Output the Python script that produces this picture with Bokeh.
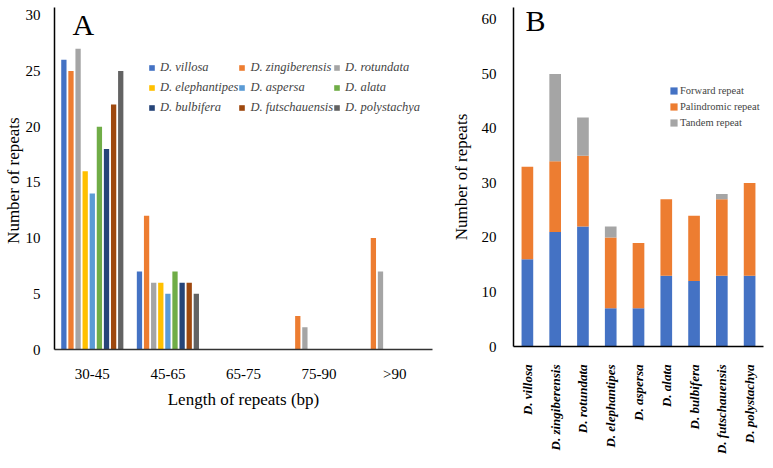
import math
from bokeh.plotting import figure
from bokeh.models import (FactorRange, Range1d, Legend, LegendItem, Label,
                          ColumnDataSource)
from bokeh.transform import dodge
from bokeh.layouts import row
from bokeh.embed import file_html
from bokeh.resources import INLINE

# ---------------- Panel A data ----------------
length_classes = ["30-45", "45-65", "65-75", "75-90", ">90"]
species_names = ["D. villosa", "D. zingiberensis", "D. rotundata",
                 "D. elephantipes", "D. aspersa", "D. alata",
                 "D. bulbifera", "D. futschauensis", "D. polystachya"]
villosa_len = [26, 7, 0, 0, 0]
zingiberensis_len = [25, 12, 0, 3, 10]
rotundata_len = [27, 6, 0, 2, 7]
elephantipes_len = [16, 6, 0, 0, 0]
aspersa_len = [14, 5, 0, 0, 0]
alata_len = [20, 7, 0, 0, 0]
bulbifera_len = [18, 6, 0, 0, 0]
futschauensis_len = [22, 6, 0, 0, 0]
polystachya_len = [25, 5, 0, 0, 0]
species_colors = ["#4472C4", "#ED7D31", "#A5A5A5", "#FFC000", "#5B9BD5",
                  "#70AD47", "#264478", "#9E480E", "#636363"]

# ---------------- Panel B data ----------------
forward_repeat = [16, 21, 22, 7, 7, 13, 12, 13, 13]
palindromic_repeat = [17, 13, 13, 13, 12, 14, 12, 14, 17]
tandem_repeat = [0, 16, 7, 2, 0, 0, 0, 1, 0]
type_names = ["Forward repeat", "Palindromic repeat", "Tandem repeat"]
type_colors = ["#4472C4", "#ED7D31", "#A5A5A5"]

SERIF = "Liberation Serif"


def style_plain(p):
    p.outline_line_color = None
    p.xgrid.grid_line_color = None
    p.ygrid.grid_line_color = None
    p.background_fill_color = None
    p.border_fill_color = None


def style_yaxis(p, standoff, label, label_standoff):
    ax = p.yaxis[0]
    ax.major_tick_line_color = None
    ax.minor_tick_line_color = None
    ax.axis_line_color = "black"
    ax.axis_line_width = 1.5
    ax.major_label_standoff = standoff
    ax.major_label_text_font = SERIF
    ax.major_label_text_font_size = "15px"
    ax.major_label_text_color = "black"
    ax.axis_label = label
    ax.axis_label_text_font = SERIF
    ax.axis_label_text_font_style = "normal"
    ax.axis_label_text_font_size = "17px"
    ax.axis_label_text_color = "black"
    ax.axis_label_standoff = label_standoff


# ================= Panel A =================
pA = figure(x_range=FactorRange(factors=length_classes, range_padding=0),
            y_range=Range1d(0, 30.7), frame_width=378, frame_height=342,
            output_backend="svg", toolbar_location=None,
            min_border_left=44, min_border_right=16,
            min_border_top=4, min_border_bottom=96)
style_plain(pA)

series_len = [villosa_len, zingiberensis_len, rotundata_len, elephantipes_len,
              aspersa_len, alata_len, bulbifera_len, futschauensis_len,
              polystachya_len]
items = []
n = len(species_names)
for i, (name, vals, col) in enumerate(zip(species_names, series_len, species_colors)):
    src = ColumnDataSource(dict(cat=length_classes, v=vals))
    r = pA.vbar(x=dodge("cat", (i - (n - 1) / 2) * 0.094, range=pA.x_range),
                top="v", width=0.07, source=src, fill_color=col,
                line_color=None)
    items.append(LegendItem(label=name, renderers=[r]))

# legend fills column by column: reorder so it reads row by row
order = [0, 3, 6, 1, 4, 7, 2, 5, 8]
legA = Legend(items=[items[k] for k in order], ncols=3, location=(94, 232),
              label_text_font=SERIF, label_text_font_style="italic",
              label_text_font_size="12.5px", glyph_width=7, glyph_height=7,
              label_standoff=5, label_height=20, spacing=0,
              padding=0, margin=0, border_line_color=None,
              background_fill_alpha=0, click_policy="none")
pA.add_layout(legA, "center")

style_yaxis(pA, 8, "Number of  repeats", 0)
pA.yaxis.ticker = [0, 5, 10, 15, 20, 25, 30]

pA.xaxis.major_tick_line_color = None
pA.xaxis.minor_tick_line_color = None
pA.xaxis.axis_line_color = "#333333"
pA.xaxis.axis_line_width = 1.5
pA.xaxis.major_label_standoff = 10
pA.xaxis.major_label_text_font = SERIF
pA.xaxis.major_label_text_font_size = "15px"
pA.xaxis.major_label_text_color = "black"
pA.xaxis.axis_label = "Length of repeats (bp)"
pA.xaxis.axis_label_text_font = SERIF
pA.xaxis.axis_label_text_font_style = "normal"
pA.xaxis.axis_label_text_font_size = "17px"
pA.xaxis.axis_label_text_color = "black"
pA.xaxis.axis_label_standoff = 5

pA.add_layout(Label(x=18, y=325, x_units="screen", y_units="screen",
                    text="A", text_font=SERIF, text_font_size="30px",
                    text_baseline="alphabetic", text_color="black"))

# ================= Panel B =================
srcB = ColumnDataSource(dict(sp=species_names, fwd=forward_repeat,
                             pal=palindromic_repeat, tan=tandem_repeat))
pB = figure(x_range=FactorRange(factors=species_names, range_padding=0),
            y_range=Range1d(0, 62.2), frame_width=250, frame_height=339,
            output_backend="svg", toolbar_location=None,
            min_border_left=57, min_border_right=1,
            min_border_top=7, min_border_bottom=96)
style_plain(pB)

rs = pB.vbar_stack(["fwd", "pal", "tan"], x="sp", width=0.42,
                   color=type_colors, line_color=None, source=srcB)
legB = Legend(items=[LegendItem(label=t, renderers=[r]) for t, r in zip(type_names, rs)],
              location=(156, 216), label_text_font=SERIF,
              label_text_font_size="10.5px", glyph_width=9, glyph_height=9,
              label_standoff=2, label_height=16, spacing=0, padding=0,
              margin=0, border_line_color=None, background_fill_alpha=0)
pB.add_layout(legB, "center")

style_yaxis(pB, 11, "Number of repeats", 8)
pB.yaxis.ticker = [0, 10, 20, 30, 40, 50, 60]

pB.xaxis.major_tick_line_color = None
pB.xaxis.minor_tick_line_color = None
pB.xaxis.axis_line_color = "black"
pB.xaxis.axis_line_width = 1.5
pB.xaxis.major_label_orientation = math.pi / 2
pB.xaxis.major_label_standoff = 12
pB.xaxis.major_label_text_font = SERIF
pB.xaxis.major_label_text_font_style = "bold italic"
pB.xaxis.major_label_text_font_size = "13px"
pB.xaxis.major_label_text_color = "black"

pB.add_layout(Label(x=12, y=326, x_units="screen", y_units="screen",
                    text="B", text_font=SERIF, text_font_size="30px",
                    text_baseline="alphabetic", text_color="black"))

layout = row(pA, pB, spacing=0)
open("out.html", "w").write(file_html(layout, INLINE))
